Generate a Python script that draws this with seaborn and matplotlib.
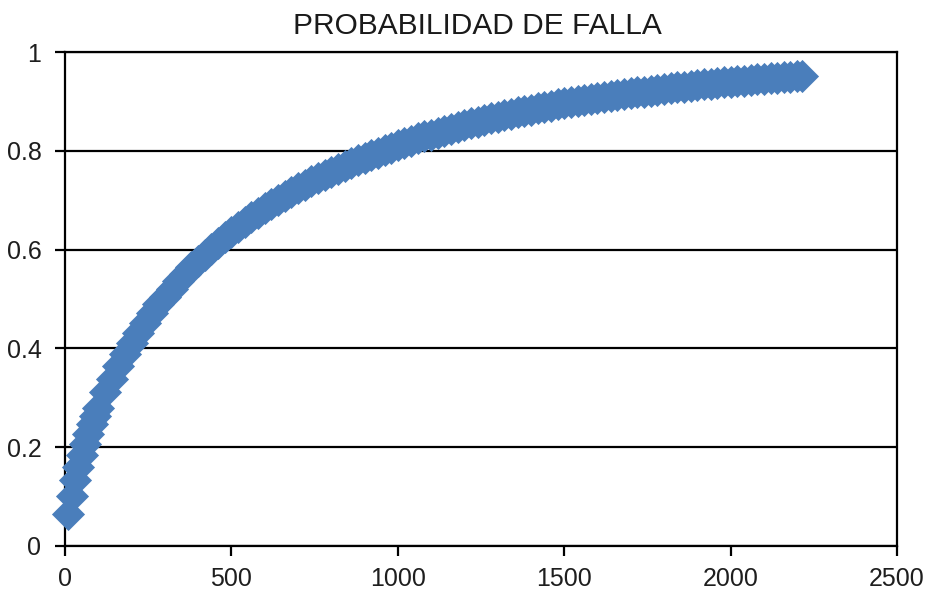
import matplotlib
matplotlib.use("Agg")
import matplotlib.pyplot as plt
import seaborn as sns
import pandas as pd

# Operating time (x) and cumulative failure probability (y)
tiempo = [
    10, 20, 30, 40, 50, 60, 70, 80, 90, 100,
    120, 140, 160, 180, 200, 220, 240, 260, 280, 300,
    320, 340, 360, 380, 400, 420, 440, 460, 480, 500,
    520, 540, 560, 580, 600, 620, 640, 660, 680, 700,
    720, 740, 760, 780, 800, 820, 840, 860, 880, 900,
    920, 940, 960, 980, 1000, 1020, 1040, 1060, 1080, 1100,
    1120, 1140, 1160, 1180, 1200, 1220, 1240, 1260, 1280, 1300,
    1320, 1340, 1360, 1380, 1400, 1420, 1440, 1460, 1480, 1500,
    1520, 1540, 1560, 1580, 1600, 1620, 1640, 1660, 1680, 1700,
    1720, 1740, 1760, 1780, 1800, 1820, 1840, 1860, 1880, 1900,
    1920, 1940, 1960, 1980, 2000, 2020, 2040, 2060, 2080, 2100,
    2120, 2140, 2160, 2180, 2200, 2215,
]
prob_falla = [
    0.064, 0.102, 0.133, 0.160, 0.185, 0.206, 0.227, 0.246, 0.263, 0.280,
    0.311, 0.339, 0.365, 0.389, 0.411, 0.432, 0.452, 0.471, 0.489, 0.505,
    0.521, 0.536, 0.551, 0.564, 0.577, 0.590, 0.602, 0.614, 0.625, 0.636,
    0.646, 0.656, 0.666, 0.675, 0.684, 0.692, 0.701, 0.709, 0.716, 0.724,
    0.731, 0.738, 0.745, 0.751, 0.757, 0.763, 0.769, 0.775, 0.781, 0.786,
    0.791, 0.796, 0.801, 0.806, 0.811, 0.816, 0.820, 0.825, 0.829, 0.833,
    0.837, 0.841, 0.845, 0.849, 0.852, 0.856, 0.859, 0.863, 0.866, 0.869,
    0.872, 0.875, 0.878, 0.881, 0.883, 0.886, 0.889, 0.891, 0.894, 0.896,
    0.898, 0.901, 0.903, 0.905, 0.907, 0.909, 0.911, 0.913, 0.915, 0.917,
    0.919, 0.920, 0.922, 0.924, 0.926, 0.927, 0.929, 0.930, 0.932, 0.933,
    0.935, 0.936, 0.937, 0.939, 0.940, 0.941, 0.942, 0.944, 0.945, 0.946,
    0.947, 0.948, 0.949, 0.950, 0.951, 0.952,
]
x_ticks = [0, 500, 1000, 1500, 2000, 2500]
y_ticks = [0, 0.2, 0.4, 0.6, 0.8, 1]
y_tick_labels = ["0", "0.2", "0.4", "0.6", "0.8", "1"]
titulo = "PROBABILIDAD DE FALLA"

df = pd.DataFrame({"tiempo": tiempo, "prob": prob_falla})

sns.set_theme(style="white")
plt.rcParams["font.family"] = ["Liberation Sans", "DejaVu Sans"]

fig = plt.figure(figsize=(9.33, 6.07), dpi=100)
ax = fig.add_axes([0.0697, 0.1005, 0.8917, 0.8138])

sns.scatterplot(data=df, x="tiempo", y="prob", marker="D", s=285,
                color="#4a7ebb", linewidth=0, ax=ax, clip_on=False, zorder=3)

ax.set_xlim(0, 2500)
ax.set_ylim(0, 1)
ax.set_xticks(x_ticks)
ax.set_xticklabels([str(t) for t in x_ticks])
ax.set_yticks(y_ticks)
ax.set_yticklabels(y_tick_labels)
ax.set_xlabel("")
ax.set_ylabel("")

ax.set_axisbelow(True)
ax.yaxis.grid(True, color="black", linewidth=1.6)
ax.xaxis.grid(False)

for side in ["left", "right", "top", "bottom"]:
    ax.spines[side].set_visible(True)
    ax.spines[side].set_color("black")
    ax.spines[side].set_linewidth(1.6)

ax.tick_params(axis="both", which="major", direction="out", length=7,
               width=1.6, color="black", labelsize=18, labelcolor="#1e1e1e",
               left=True, bottom=True)
ax.tick_params(axis="x", pad=8)
ax.tick_params(axis="y", pad=10)

fig.text(0.5115, 0.957, titulo, ha="center", va="center", fontsize=21.5,
         color="#1a1a1a")

fig.savefig("out.png", dpi=100, facecolor="white")
